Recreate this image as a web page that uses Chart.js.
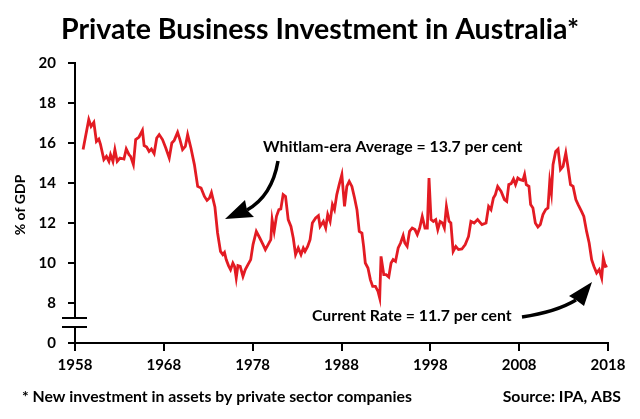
<!DOCTYPE html>
<html>
<head>
<meta charset="utf-8">
<script src="https://cdn.jsdelivr.net/npm/chart.js@4.4.1/dist/chart.umd.min.js"></script>
<style>
  html, body { margin: 0; padding: 0; background: #fff; }
  canvas { display: block; }
</style>
</head>
<body>
<canvas id="invest" width="640" height="419"></canvas>
<script>
var FONT = "Lato, 'Open Sans', sans-serif";

var tickYears = [1958, 1968, 1978, 1988, 1998, 2008, 2018];
var tickValues = [6, 8, 10, 12, 14, 16, 18, 20];
var tickLabels = ["0", "8", "10", "12", "14", "16", "18", "20"];

var years = [
  1958.91, 1959.55, 1959.81, 1960.12, 1960.41, 1960.68, 1960.86, 1961.25, 1961.54, 1961.82,
  1962.0, 1962.27, 1962.49, 1962.75, 1963.06, 1963.51, 1963.77, 1964.08, 1964.26, 1964.57,
  1964.83, 1965.21, 1965.59, 1965.78, 1966.07, 1966.34, 1966.6, 1966.91, 1967.2, 1967.48,
  1967.85, 1968.22, 1968.61, 1968.9, 1969.17, 1969.55, 1969.81, 1970.11, 1970.42, 1970.68,
  1971.05, 1971.44, 1971.81, 1972.19, 1972.57, 1972.86, 1973.14, 1973.36, 1973.75, 1974.05,
  1974.38, 1974.64, 1974.83, 1975.02, 1975.28, 1975.51, 1975.77, 1975.96, 1976.15, 1976.34,
  1976.6, 1976.91, 1977.17, 1977.47, 1977.78, 1978.04, 1978.41, 1978.8, 1979.17, 1979.43,
  1979.74, 1980.04, 1980.19, 1980.42, 1980.68, 1980.95, 1981.17, 1981.43, 1981.7, 1982.0,
  1982.31, 1982.57, 1982.83, 1983.13, 1983.44, 1983.7, 1983.89, 1984.19, 1984.46, 1984.72,
  1985.09, 1985.4, 1985.59, 1985.96, 1986.22, 1986.45, 1986.72, 1986.98, 1987.21, 1987.47,
  1987.74, 1988.04, 1988.34, 1988.6, 1988.87, 1989.17, 1989.47, 1989.74, 1990.0, 1990.3,
  1990.49, 1990.68, 1990.98, 1991.25, 1991.51, 1991.82, 1992.11, 1992.3, 1992.45, 1992.76,
  1993.02, 1993.32, 1993.58, 1993.81, 1994.08, 1994.38, 1994.65, 1994.94, 1995.13, 1995.39,
  1995.66, 1995.96, 1996.27, 1996.53, 1996.8, 1997.09, 1997.4, 1997.66, 1997.85, 1998.08,
  1998.34, 1998.61, 1998.84, 1999.1, 1999.36, 1999.58, 1999.81, 2000.11, 2000.31, 2000.57,
  2000.87, 2001.17, 2001.55, 2001.93, 2002.3, 2002.57, 2002.94, 2003.32, 2003.81, 2004.27,
  2004.56, 2004.83, 2005.1, 2005.32, 2005.58, 2005.97, 2006.34, 2006.6, 2006.83, 2007.1,
  2007.36, 2007.59, 2007.85, 2008.12, 2008.42, 2008.61, 2008.8, 2009.1, 2009.29, 2009.55,
  2009.82, 2010.11, 2010.38, 2010.68, 2010.98, 2011.24, 2011.44, 2011.63, 2011.81, 2012.11,
  2012.38, 2012.65, 2012.94, 2013.25, 2013.51, 2013.78, 2014.07, 2014.38, 2014.64, 2015.02,
  2015.28, 2015.59, 2015.88, 2016.16, 2016.42, 2016.72, 2017.01, 2017.29, 2017.47, 2017.7,
  2017.92
];

// private business investment, % of GDP
var investment = [
  15.67, 17.17, 16.83, 17.03, 16.08, 16.2, 15.95, 15.17, 15.33, 15.08,
  15.42, 15.08, 15.67, 15.08, 15.25, 15.2, 15.7, 15.42, 15.33, 14.92,
  16.17, 16.3, 16.63, 15.87, 15.8, 15.58, 15.7, 15.47, 16.25, 16.42,
  16.17, 15.75, 15.25, 16.0, 16.13, 16.53, 16.17, 15.67, 15.83, 16.42,
  15.75, 14.92, 13.83, 13.75, 13.33, 13.13, 13.25, 13.52, 12.8, 11.5,
  10.58, 10.42, 10.53, 10.17, 9.87, 9.67, 10.0, 9.83, 9.25, 9.87,
  9.83, 9.33, 9.67, 9.92, 10.17, 10.92, 11.58, 11.25, 10.92, 10.67,
  10.92, 11.17, 12.17, 11.58, 12.33, 12.67, 12.7, 13.42, 13.33, 12.17,
  11.83, 11.25, 10.42, 10.75, 10.42, 10.75, 10.58, 10.83, 11.17, 12.0,
  12.25, 12.37, 11.83, 12.08, 11.75, 12.42, 12.08, 12.92, 12.67, 13.42,
  13.92, 14.42, 12.83, 13.83, 14.08, 13.83, 13.25, 12.67, 11.58, 11.5,
  10.83, 10.0, 9.75, 9.17, 8.83, 8.83, 8.58, 8.25, 10.33, 9.42,
  9.42, 9.3, 10.0, 10.17, 10.08, 10.75, 11.0, 11.37, 11.0, 10.83,
  11.58, 11.75, 11.67, 11.42, 11.75, 12.33, 11.75, 11.75, 14.25, 12.17,
  12.08, 12.17, 11.67, 12.08, 12.0, 11.75, 12.83, 12.08, 12.0, 10.58,
  10.83, 10.67, 10.7, 10.92, 11.33, 12.08, 12.0, 12.17, 11.92, 12.0,
  12.83, 12.67, 13.25, 13.42, 13.83, 13.58, 13.17, 13.08, 13.92, 13.97,
  14.2, 13.92, 14.25, 14.17, 14.13, 14.42, 13.92, 13.83, 12.92, 12.75,
  12.0, 11.8, 11.92, 12.42, 12.67, 12.75, 14.08, 13.5, 14.92, 15.58,
  15.7, 14.67, 14.83, 15.5, 14.75, 13.92, 13.83, 13.17, 12.92, 12.58,
  12.33, 11.58, 11.0, 10.17, 9.83, 9.5, 9.67, 9.25, 10.25, 9.83,
  9.87
];

function getPoints(xs, ys) {
  var result = [];
  for (var i = 0; i < xs.length; i++) {
    result.push({ x: xs[i], y: ys[i] });
  }
  return result;
}

function drawArrow(ctx, tail, ctrl, base, tip, left, right) {
  ctx.beginPath();
  ctx.moveTo(tail[0], tail[1]);
  ctx.quadraticCurveTo(ctrl[0], ctrl[1], base[0], base[1]);
  ctx.lineWidth = 3.5;
  ctx.strokeStyle = "#000";
  ctx.stroke();
  ctx.beginPath();
  ctx.moveTo(tip[0], tip[1]);
  ctx.lineTo(left[0], left[1]);
  ctx.lineTo(base[0], base[1]);
  ctx.lineTo(right[0], right[1]);
  ctx.closePath();
  ctx.fillStyle = "#000";
  ctx.fill();
}

var extras = {
  id: "extras",
  afterDraw: function (chart) {
    var ctx = chart.ctx;
    var yAxis = chart.scales.y;
    var ax = yAxis.right;
    ctx.save();

    // axis break
    var b1 = 318, b2 = 327;
    ctx.fillStyle = "#fff";
    ctx.fillRect(ax - 3, b1, 6, b2 - b1);
    ctx.strokeStyle = "#000";
    ctx.lineWidth = 2;
    ctx.beginPath();
    ctx.moveTo(ax - 13, b1); ctx.lineTo(ax + 12, b1);
    ctx.moveTo(ax - 13, b2); ctx.lineTo(ax + 12, b2);
    ctx.stroke();

    ctx.fillStyle = "#000";
    ctx.textAlign = "center";
    ctx.textBaseline = "middle";
    ctx.font = "bold 28.5px " + FONT;
    ctx.fillText("Private Business Investment in Australia*", 320, 30);

    ctx.font = "bold 15.8px " + FONT;
    ctx.textAlign = "left";
    ctx.fillText("Whitlam-era Average = 13.7 per cent", 263, 147);
    ctx.fillText("Current Rate = 11.7 per cent", 312, 316);
    ctx.fillText("* New investment in assets by private sector companies", 22, 397);
    ctx.textAlign = "right";
    ctx.fillText("Source: IPA, ABS", 621, 397);

    ctx.save();
    ctx.translate(20, 205);
    ctx.rotate(-Math.PI / 2);
    ctx.textAlign = "center";
    ctx.font = "bold 14px " + FONT;
    ctx.fillText("% of GDP", 0, 0);
    ctx.restore();

    drawArrow(ctx, [278, 161], [272, 196], [247, 210], [225, 219], [245, 200], [254, 217]);
    drawArrow(ctx, [522, 317], [556, 312], [576, 300], [592, 282], [569, 296], [584, 306]);

    ctx.restore();
  }
};

var ctx = document.getElementById("invest").getContext("2d");

var lineChart = new Chart(ctx, {
  type: "line",
  data: {
    datasets: [
      {
        label: "Private business investment (% of GDP)",
        data: getPoints(years, investment),
        borderColor: "#e31b23",
        borderWidth: 2.8,
        pointRadius: 0,
        tension: 0,
        fill: false
      }
    ]
  },
  options: {
    responsive: false,
    animation: false,
    events: [],
    layout: { padding: { top: 63, right: 32, left: 0, bottom: 0 } },
    plugins: { legend: { display: false }, tooltip: { enabled: false } },
    scales: {
      x: {
        type: "linear",
        min: tickYears[0],
        max: tickYears[tickYears.length - 1],
        afterFit: function (s) { s.height = 76; },
        afterBuildTicks: function (s) {
          s.ticks = tickYears.map(function (v) { return { value: v }; });
        },
        ticks: {
          callback: function (v) { return String(v); },
          color: "#000",
          padding: 5,
          maxRotation: 0,
          font: { family: FONT, size: 15, weight: "bold" }
        },
        grid: { drawOnChartArea: false, tickLength: 8, color: "#000", lineWidth: 2 },
        border: { color: "#000", width: 2 }
      },
      y: {
        min: tickValues[0],
        max: tickValues[tickValues.length - 1],
        afterFit: function (s) { s.width = 75; },
        afterBuildTicks: function (s) {
          s.ticks = tickValues.map(function (v) { return { value: v }; });
        },
        ticks: {
          callback: function (v) { return tickLabels[tickValues.indexOf(v)]; },
          color: "#000",
          padding: 12,
          font: { family: FONT, size: 15, weight: "bold" }
        },
        grid: { drawOnChartArea: false, tickLength: 7, color: "#000", lineWidth: 2 },
        border: { color: "#000", width: 2 }
      }
    }
  },
  plugins: [extras]
});
</script>
</body>
</html>
